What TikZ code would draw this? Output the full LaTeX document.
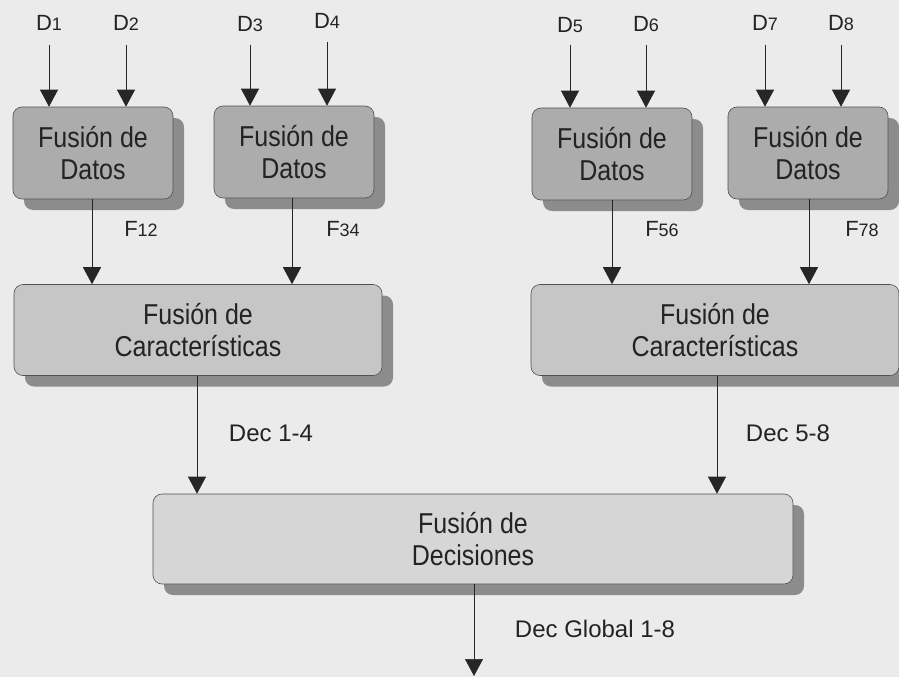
\documentclass[tikz,border=0pt]{standalone}
\usepackage{fontspec}
\usepackage{graphicx}
\setmainfont{Liberation Sans}
\usetikzlibrary{arrows.meta,shadows}
\definecolor{bg}{RGB}{235,235,235}
\definecolor{dataf}{RGB}{172,172,172}
\definecolor{featf}{RGB}{198,198,198}
\definecolor{decf}{RGB}{214,214,214}
\definecolor{shad}{RGB}{140,140,140}
\definecolor{txt}{RGB}{35,35,35}
\definecolor{edge}{RGB}{80,80,80}
\newcommand{\bt}[1]{\scalebox{1}[1.15]{#1}}
\newcommand{\sm}[1]{{\fontsize{18}{18}\selectfont #1}}
\begin{document}
\begin{tikzpicture}[x=1pt,y=-1pt,
  boxbase/.style={draw=edge, line width=0.6pt, rounded corners=9pt, inner sep=0pt,
    align=center, font=\fontsize{25}{32}\selectfont, text=txt,
    drop shadow={shadow xshift=11pt, shadow yshift=-11pt, fill=shad, opacity=1}},
  databox/.style={boxbase, fill=dataf, minimum width=160pt, minimum height=92pt},
  featbox/.style={boxbase, fill=featf, minimum width=368pt, minimum height=91pt},
  decbox/.style={boxbase, fill=decf, minimum width=640pt, minimum height=90pt},
  arr/.style={draw=black!85, line width=0.7pt, -{Triangle[width=18pt,length=17pt]}},
  lab/.style={font=\fontsize{22}{22}\selectfont, text=txt, inner sep=0pt},
  declab/.style={font=\fontsize{24}{24}\selectfont, text=txt, inner sep=0pt}]
\fill[bg] (0,0) rectangle (899,677);
\useasboundingbox (0,0) rectangle (899,677);

% data fusion boxes
\node[databox] (b1) at (93,153) {\bt{Fusión de}\\\bt{Datos}};
\node[databox] (b2) at (294,152) {\bt{Fusión de}\\\bt{Datos}};
\node[databox] (b3) at (612,154) {\bt{Fusión de}\\\bt{Datos}};
\node[databox] (b4) at (808,153) {\bt{Fusión de}\\\bt{Datos}};

% feature fusion boxes
\node[featbox] (f1) at (198,330) {\bt{Fusión de}\\\bt{Características}};
\node[featbox] (f2) at (715,330) {\bt{Fusión de}\\\bt{Características}};

% decision fusion box
\node[decbox] (dec) at (473,539) {\bt{Fusión de}\\\bt{Decisiones}};

% input labels
\node[lab] (d1) at (49,23) {D\sm{1}};
\node[lab] (d2) at (126,23) {D\sm{2}};
\node[lab] (d3) at (250,24) {D\sm{3}};
\node[lab] (d4) at (327,21) {D\sm{4}};
\node[lab] (d5) at (570,25) {D\sm{5}};
\node[lab] (d6) at (646,24) {D\sm{6}};
\node[lab] (d7) at (765,23) {D\sm{7}};
\node[lab] (d8) at (841,23) {D\sm{8}};

\coordinate (t1) at (49,45);  \coordinate (t2) at (126,45);
\coordinate (t3) at (250,45); \coordinate (t4) at (327,42);
\coordinate (t5) at (570,45); \coordinate (t6) at (646,45);
\coordinate (t7) at (765,45); \coordinate (t8) at (841,45);

\draw[arr] (t1) -- (t1 |- b1.north);
\draw[arr] (t2) -- (t2 |- b1.north);
\draw[arr] (t3) -- (t3 |- b2.north);
\draw[arr] (t4) -- (t4 |- b2.north);
\draw[arr] (t5) -- (t5 |- b3.north);
\draw[arr] (t6) -- (t6 |- b3.north);
\draw[arr] (t7) -- (t7 |- b4.north);
\draw[arr] (t8) -- (t8 |- b4.north);

% data -> feature
\draw[arr] (b1.south -| 92,0) -- (f1.north -| 92,0);
\draw[arr] (b2.south -| 292,0) -- (f1.north -| 292,0);
\draw[arr] (b3.south -| 612,0) -- (f2.north -| 612,0);
\draw[arr] (b4.south -| 809,0) -- (f2.north -| 809,0);

\node[lab] (l12) at (141,229) {F\sm{12}};
\node[lab] (l34) at (343,229) {F\sm{34}};
\node[lab] (l56) at (662,229) {F\sm{56}};
\node[lab] (l78) at (862,229) {F\sm{78}};

% feature -> decision
\draw[arr] (f1.south -| 197,0) -- (dec.north -| 197,0);
\draw[arr] (f2.south -| 717,0) -- (dec.north -| 717,0);

\node[declab] (dec14) at (271,433) {Dec 1-4};
\node[declab] (dec58) at (788,433) {Dec 5-8};

% output
\coordinate (out) at (474,676);
\draw[arr] (dec.south -| out) -- (out);
\node[declab] (glob) at (595,629) {Dec Global 1-8};
\end{tikzpicture}
\end{document}
